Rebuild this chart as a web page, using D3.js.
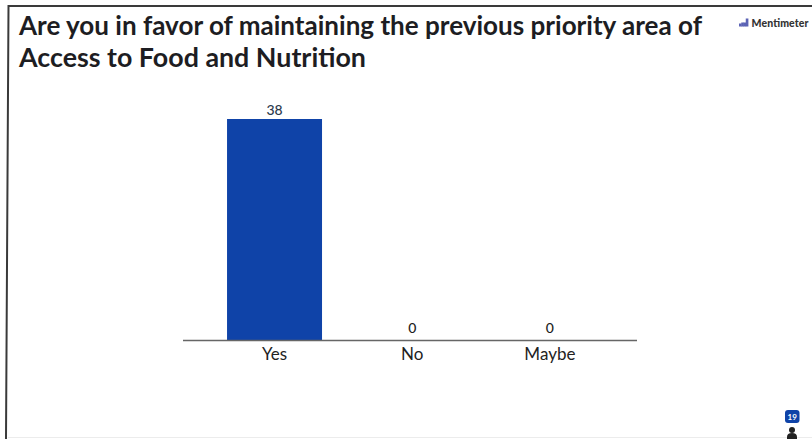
<!DOCTYPE html>
<html>
<head>
<meta charset="utf-8">
<script src="https://cdn.jsdelivr.net/npm/d3@7"></script>
<style>
html, body { margin: 0; padding: 0; background: #fff; }
svg { display: block; }
text { font-family: Lato, "Open Sans", sans-serif; }
</style>
</head>
<body>
<svg id="chart" width="812" height="439"></svg>
<script>
// Poll results
const categories = ["Yes", "No", "Maybe"];
const votes = [38, 0, 0];
const titleLines = [
  "Are you in favor of maintaining the previous priority area of",
  "Access to Food and Nutrition"
];
const titleWidths = [683, 347];
const brandName = "Mentimeter";
const respondents = "19";
const logoBars = [3, 4, 4, 8];

const svg = d3.select("#chart");

const x = d3.scaleBand().domain(categories).range([205.7, 618.7]).paddingInner(0.31).paddingOuter(0.155);
const y = d3.scaleLinear().domain([0, 38]).range([340, 119]);

// Slide frame
svg.append("path")
  .attr("d", "M6 439L8.5 6H812")
  .attr("fill", "none").attr("stroke", "#3a3a3a").attr("stroke-width", 2);
svg.append("line").attr("x1", 8).attr("x2", 812).attr("y1", 437.5).attr("y2", 437.5)
  .attr("stroke", "#ececec").attr("stroke-width", 1);

// Question title
svg.append("g").selectAll("text").data(titleLines).join("text")
  .attr("x", 19).attr("y", (d, i) => 35 + i * 32)
  .attr("font-size", 26).attr("font-weight", 700).attr("fill", "#1d1d22")
  .attr("textLength", (d, i) => titleWidths[i]).attr("lengthAdjust", "spacingAndGlyphs")
  .text(d => d);

// Bars
svg.append("g").selectAll("rect").data(votes).join("rect")
  .attr("x", (d, i) => x(categories[i]))
  .attr("y", d => y(d))
  .attr("width", x.bandwidth())
  .attr("height", d => y(0) - y(d))
  .attr("fill", "#0f43a8");

// Baseline and category labels
const axis = d3.axisBottom(x).tickSize(0).tickPadding(8);
const axisG = svg.append("g").attr("transform", `translate(0,${y(0)})`).call(axis);
axisG.select(".domain").attr("d", "M183 0.5H637").attr("stroke", "#666").attr("stroke-width", 1.6);
axisG.selectAll("text").attr("font-size", 17).attr("fill", "#222").style("font-family", "Lato, sans-serif");

// Value labels
svg.append("g").selectAll("text").data(votes).join("text")
  .attr("x", (d, i) => x(categories[i]) + x.bandwidth() / 2)
  .attr("y", d => y(d) - (d > 0 ? 4.5 : 7))
  .attr("text-anchor", "middle").attr("font-size", 14).attr("font-weight", 500)
  .attr("fill", d => d > 0 ? "#2c3a4d" : "#1d1d22")
  .text(d => d);

// Brand mark, top right
const logoX = d3.scaleBand().domain(d3.range(logoBars.length)).range([739, 748]);
svg.append("g").selectAll("rect").data(logoBars).join("rect")
  .attr("x", (d, i) => logoX(i)).attr("width", logoX.bandwidth() + 0.4)
  .attr("y", d => 26.5 - d).attr("height", d => d)
  .attr("fill", "#5b63b5");
svg.append("text").attr("x", 751.5).attr("y", 26.5).attr("font-size", 10.5).attr("font-weight", 900)
  .attr("fill", "#333").attr("textLength", 57).text(brandName);

// Respondent counter, bottom right
svg.append("rect").attr("x", 785).attr("y", 410).attr("width", 14.5).attr("height", 13).attr("rx", 3).attr("fill", "#0f43a8");
svg.append("text").attr("x", 792.2).attr("y", 420).attr("text-anchor", "middle").attr("font-size", 8)
  .attr("font-weight", 700).attr("fill", "#fff").text(respondents);
svg.append("circle").attr("cx", 792).attr("cy", 430).attr("r", 3).attr("fill", "#222");
svg.append("path").attr("d", "M787 439v-2q0-4 5-4t5 4v2z").attr("fill", "#222");
</script>
</body>
</html>
